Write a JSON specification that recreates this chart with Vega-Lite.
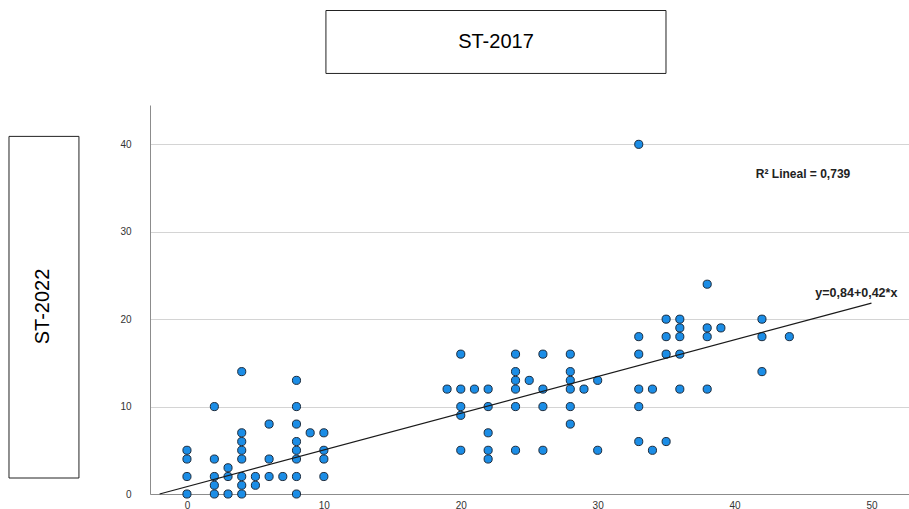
{
  "$schema": "https://vega.github.io/schema/vega-lite/v6.json",
  "width": 759,
  "height": 389,
  "autosize": "none",
  "padding": {"left": 150, "top": 105, "right": 0, "bottom": 15},
  "background": "white",
  "config": {"view": {"stroke": null}, "font": "Liberation Sans"},
  "datasets": {
    "points": [
      {"ST2017": 0, "ST2022": 0}, {"ST2017": 0, "ST2022": 2}, {"ST2017": 0, "ST2022": 4}, {"ST2017": 0, "ST2022": 5},
      {"ST2017": 2, "ST2022": 0}, {"ST2017": 2, "ST2022": 1}, {"ST2017": 2, "ST2022": 2}, {"ST2017": 2, "ST2022": 4}, {"ST2017": 2, "ST2022": 10},
      {"ST2017": 3, "ST2022": 0}, {"ST2017": 3, "ST2022": 2}, {"ST2017": 3, "ST2022": 3},
      {"ST2017": 4, "ST2022": 0}, {"ST2017": 4, "ST2022": 1}, {"ST2017": 4, "ST2022": 2}, {"ST2017": 4, "ST2022": 4}, {"ST2017": 4, "ST2022": 5}, {"ST2017": 4, "ST2022": 6}, {"ST2017": 4, "ST2022": 7}, {"ST2017": 4, "ST2022": 14},
      {"ST2017": 5, "ST2022": 1}, {"ST2017": 5, "ST2022": 2},
      {"ST2017": 6, "ST2022": 2}, {"ST2017": 6, "ST2022": 4}, {"ST2017": 6, "ST2022": 8},
      {"ST2017": 7, "ST2022": 2},
      {"ST2017": 8, "ST2022": 0}, {"ST2017": 8, "ST2022": 2}, {"ST2017": 8, "ST2022": 4}, {"ST2017": 8, "ST2022": 5}, {"ST2017": 8, "ST2022": 6}, {"ST2017": 8, "ST2022": 8}, {"ST2017": 8, "ST2022": 10}, {"ST2017": 8, "ST2022": 13},
      {"ST2017": 9, "ST2022": 7},
      {"ST2017": 10, "ST2022": 2}, {"ST2017": 10, "ST2022": 4}, {"ST2017": 10, "ST2022": 5}, {"ST2017": 10, "ST2022": 7},
      {"ST2017": 19, "ST2022": 12},
      {"ST2017": 20, "ST2022": 5}, {"ST2017": 20, "ST2022": 9}, {"ST2017": 20, "ST2022": 10}, {"ST2017": 20, "ST2022": 12}, {"ST2017": 20, "ST2022": 16},
      {"ST2017": 21, "ST2022": 12},
      {"ST2017": 22, "ST2022": 4}, {"ST2017": 22, "ST2022": 5}, {"ST2017": 22, "ST2022": 7}, {"ST2017": 22, "ST2022": 10}, {"ST2017": 22, "ST2022": 12},
      {"ST2017": 24, "ST2022": 5}, {"ST2017": 24, "ST2022": 10}, {"ST2017": 24, "ST2022": 12}, {"ST2017": 24, "ST2022": 13}, {"ST2017": 24, "ST2022": 14}, {"ST2017": 24, "ST2022": 16},
      {"ST2017": 25, "ST2022": 13},
      {"ST2017": 26, "ST2022": 5}, {"ST2017": 26, "ST2022": 10}, {"ST2017": 26, "ST2022": 12}, {"ST2017": 26, "ST2022": 16},
      {"ST2017": 28, "ST2022": 8}, {"ST2017": 28, "ST2022": 10}, {"ST2017": 28, "ST2022": 12}, {"ST2017": 28, "ST2022": 13}, {"ST2017": 28, "ST2022": 14}, {"ST2017": 28, "ST2022": 16},
      {"ST2017": 29, "ST2022": 12},
      {"ST2017": 30, "ST2022": 5}, {"ST2017": 30, "ST2022": 13},
      {"ST2017": 33, "ST2022": 6}, {"ST2017": 33, "ST2022": 10}, {"ST2017": 33, "ST2022": 12}, {"ST2017": 33, "ST2022": 16}, {"ST2017": 33, "ST2022": 18}, {"ST2017": 33, "ST2022": 40},
      {"ST2017": 34, "ST2022": 5}, {"ST2017": 34, "ST2022": 12},
      {"ST2017": 35, "ST2022": 6}, {"ST2017": 35, "ST2022": 16}, {"ST2017": 35, "ST2022": 18}, {"ST2017": 35, "ST2022": 20},
      {"ST2017": 36, "ST2022": 12}, {"ST2017": 36, "ST2022": 16}, {"ST2017": 36, "ST2022": 18}, {"ST2017": 36, "ST2022": 19}, {"ST2017": 36, "ST2022": 20},
      {"ST2017": 38, "ST2022": 12}, {"ST2017": 38, "ST2022": 18}, {"ST2017": 38, "ST2022": 19}, {"ST2017": 38, "ST2022": 24},
      {"ST2017": 39, "ST2022": 19},
      {"ST2017": 42, "ST2022": 14}, {"ST2017": 42, "ST2022": 18}, {"ST2017": 42, "ST2022": 20},
      {"ST2017": 44, "ST2022": 18}
    ],
    "fit": [
      {"ST2017": -2, "ST2022": 0},
      {"ST2017": 50, "ST2022": 21.84}
    ],
    "one": [{"id": 1}]
  },
  "layer": [
    {
      "data": {"name": "points"},
      "mark": {"type": "point", "filled": true, "fill": "#1b8de6", "stroke": "#1c2b3c", "strokeWidth": 1, "size": 66, "opacity": 1, "shape": "circle"},
      "encoding": {
        "x": {"field": "ST2017", "type": "quantitative",
              "scale": {"domain": [-2.7, 52.74], "nice": false, "zero": false},
              "axis": {"values": [0, 10, 20, 30, 40, 50], "grid": false, "ticks": false, "domainColor": "#8c8c8c", "labelColor": "#333333", "labelFontSize": 10, "labelPadding": 6, "labelFont": "Liberation Sans", "title": null}},
        "y": {"field": "ST2022", "type": "quantitative",
              "scale": {"domain": [0, 44.5], "nice": false},
              "axis": {"values": [0, 10, 20, 30, 40], "grid": true, "gridColor": "#d4d4d4", "ticks": false, "domainColor": "#8c8c8c", "labelColor": "#333333", "labelFontSize": 10, "labelPadding": 19, "labelFont": "Liberation Sans",
                       "title": "ST-2022", "titleFontSize": 20, "titleFontWeight": "normal", "titleFont": "Liberation Sans", "titleColor": "black", "titleAngle": -90, "titleX": -108, "titleY": 201, "titleAlign": "center", "titleBaseline": "middle"}}
      }
    },
    {
      "data": {"name": "fit"},
      "mark": {"type": "line", "color": "#1a1a1a", "strokeWidth": 1.2},
      "encoding": {
        "x": {"field": "ST2017", "type": "quantitative"},
        "y": {"field": "ST2022", "type": "quantitative"}
      }
    },
    {
      "data": {"name": "one"},
      "mark": {"type": "text", "text": "R² Lineal = 0,739", "fontWeight": "bold", "fontSize": 12, "font": "Liberation Sans", "align": "center", "baseline": "middle", "color": "#222222"},
      "encoding": {"x": {"datum": 45.0}, "y": {"datum": 36.6}}
    },
    {
      "data": {"name": "one"},
      "mark": {"type": "text", "text": "y=0,84+0,42*x", "fontWeight": "bold", "fontSize": 12.5, "font": "Liberation Sans", "align": "left", "baseline": "middle", "color": "#222222"},
      "encoding": {"x": {"datum": 45.9}, "y": {"datum": 23.0}}
    },
    {
      "data": {"name": "one"},
      "mark": {"type": "rect", "fill": null, "fillOpacity": 0, "stroke": "#222222", "strokeWidth": 1},
      "encoding": {"x": {"datum": 10.15}, "x2": {"datum": 34.99}, "y": {"datum": 55.31}, "y2": {"datum": 48.11}}
    },
    {
      "data": {"name": "one"},
      "mark": {"type": "text", "text": "ST-2017", "fontSize": 20, "font": "Liberation Sans", "align": "center", "baseline": "middle", "color": "black"},
      "encoding": {"x": {"datum": 22.57}, "y": {"datum": 51.66}}
    },
    {
      "data": {"name": "one"},
      "mark": {"type": "rect", "fill": null, "fillOpacity": 0, "stroke": "#222222", "strokeWidth": 1},
      "encoding": {"x": {"datum": -13.0}, "x2": {"datum": -7.89}, "y": {"datum": 40.91}, "y2": {"datum": 1.83}}
    }
  ]
}
